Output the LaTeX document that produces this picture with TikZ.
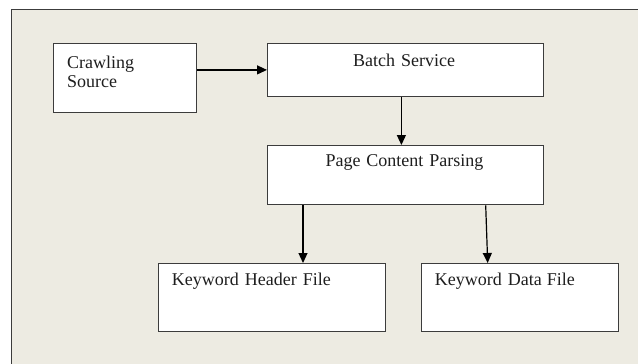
\documentclass[tikz,border=0pt]{standalone}
\usepackage{fontspec}
\setmainfont{Liberation Serif}
\usetikzlibrary{arrows.meta}
\definecolor{panel}{HTML}{EDEBE2}
\definecolor{edge}{HTML}{3C3C3C}
\definecolor{ink}{HTML}{1E1E1E}
\tikzset{
  box/.style={draw=edge, fill=white, line width=1.1pt, rectangle, inner sep=0pt, anchor=north west},
  lbl/.style={text=ink, font=\fontsize{18}{19}\selectfont, inner sep=0pt, anchor=base west, text width=200pt, align=left},
  arr/.style={draw=black, line width=1.2pt, -{Triangle[length=10pt,width=9pt]}}
}
\begin{document}
\begin{tikzpicture}[x=1pt,y=1pt]
  \useasboundingbox (0,0) rectangle (638,-364);
  \clip (0,0) rectangle (638,-364);
  % background panel
  \fill[white] (0,0) rectangle (638,-364);
  \draw[edge, fill=panel, line width=0.9pt] (11,-9) rectangle (650,-380);

  % boxes
  \node[box, minimum width=143pt, minimum height=68.5pt] (cs) at (53,-43) {};
  \node[box, minimum width=275.7pt, minimum height=52.7pt] (bs) at (267,-43) {};
  \node[box, minimum width=275.7pt, minimum height=59.3pt] (pcp) at (267,-145) {};
  \node[box, minimum width=226.7pt, minimum height=68pt] (khf) at (158,-263) {};
  \node[box, minimum width=197.3pt, minimum height=68pt] (kdf) at (421,-263) {};

  % labels
  \node[lbl, text width=100pt] (csT) at (67,-68.3) {Crawling\\Source};
  \node[lbl, text width=120pt, align=center, anchor=base] (bsT) at (404,-66.7) {Batch Service};
  \node[lbl] (pcpT) at (325.3,-166.7) {Page Content Parsing};
  \node[lbl] (khfT) at (171.7,-285.3) {Keyword Header File};
  \node[lbl, text width=180pt] (kdfT) at (434.7,-285.3) {Keyword Data\kern-1pt\ File};

  % connectors
  \draw[arr] (cs.east |- bs.west) -- (bs.west);
  \draw[arr] ([xshift=-4pt]bs.south) -- ([xshift=-4pt]pcp.north);
  \draw[arr] ([xshift=36pt]pcp.south west) -- ([xshift=145pt]khf.north west);
  \draw[arr] ([xshift=218.7pt]pcp.south west) -- ([xshift=66.7pt]kdf.north west);
\end{tikzpicture}
\end{document}
